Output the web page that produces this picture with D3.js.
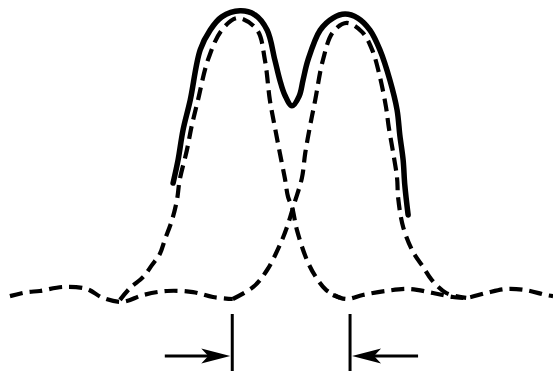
<!DOCTYPE html>
<html>
<head>
<meta charset="utf-8">
<script src="https://cdn.jsdelivr.net/npm/d3@7"></script>
<style>
  html, body { margin: 0; padding: 0; background: #fff; }
  svg { display: block; }
</style>
</head>
<body>
<svg id="chart" width="553" height="371"></svg>
<script>
// Two overlapping component peaks (dashed), their resolved sum (solid),
// and a noisy baseline. Position runs 0-100, intensity 0-100.

// Left component peak
const leftPeakX = [21.7, 23.5, 25.9, 27.5, 28.9, 29.8, 31.1, 32.0, 32.5, 33.8, 34.7, 35.8, 37.6, 40.1, 43.0,
                   46.5, 47.9, 48.8, 49.7, 50.6, 51.5, 52.1, 52.8, 53.7, 55.5, 57.1, 59.0, 61.5];
const leftPeakY = [-1.0, 3.1, 7.0, 11.2, 15.0, 19.9, 26.8, 33.8, 40.8, 51.2, 59.9, 68.6, 82.6, 93.0, 97.2,
                   93.0, 82.6, 68.6, 59.2, 50.2, 41.5, 34.8, 31.4, 23.3, 12.9, 7.0, 2.4, -0.3];

// Right component peak
const rightPeakX = [42.1, 45.8, 48.3, 50.6, 51.9, 53.3, 54.6, 55.2, 56.1, 57.0, 58.4, 60.2, 62.7,
                    65.5, 67.3, 68.7, 69.8, 70.3, 71.1, 71.8, 72.0, 72.9, 74.7, 76.5, 78.1, 80.7, 84.3];
const rightPeakY = [-0.7, 3.5, 9.4, 18.1, 24.4, 33.1, 41.5, 50.2, 59.9, 68.6, 82.6, 92.3, 95.5,
                    92.3, 86.1, 76.7, 66.2, 59.2, 50.2, 41.5, 34.5, 24.4, 15.7, 10.5, 5.9, 1.4, -0.3];

// Observed (summed) profile over the upper part of both peaks
const sumX = [31.3, 32.2, 33.1, 34.4, 36.2, 38.0, 40.1, 43.4, 46.1, 48.3, 49.7, 50.6, 51.5, 52.8,
              54.1, 54.8, 55.7, 57.9, 60.2, 62.4, 64.7, 66.9, 68.7, 70.5, 71.8, 72.3, 72.9, 73.2, 73.8];
const sumY = [39.7, 47.7, 58.2, 68.6, 86.1, 93.0, 97.6, 99.7, 98.3, 93.0, 82.6, 75.6, 70.4, 66.6,
              70.0, 75.6, 82.6, 93.0, 97.2, 98.6, 97.2, 93.0, 86.1, 75.6, 65.2, 56.4, 47.7, 39.0, 28.6];

// Baseline noise either side of the peaks
const baseLeftX = [1.8, 4.9, 7.2, 11.4, 15.7, 18.6, 22.1, 25.9, 30.2, 34.9, 38.5, 42.1];
const baseLeftY = [0.3, 1.7, 2.1, 3.5, 2.8, -0.3, -1.7, 0.7, 2.1, 1.7, 0.0, -0.7];
const baseRightX = [60.2, 62.6, 65.6, 69.8, 74.1, 78.3, 81.9, 84.3, 87.9, 91.5, 95.1, 98.7, 100];
const baseRightY = [0.7, -0.7, 0.7, 2.1, 2.8, 1.4, 0.0, -0.3, 1.4, 2.8, 2.4, 0.7, 0.3];

// Peak-separation markers and the arrow tails pointing at them
const markerX = [42.0, 63.3];
const arrowTailX = [29.8, 75.6];

const svg = d3.select("#chart");
const W = 553;

const x = d3.scaleLinear().domain([0, 100]).range([0, W]);
const y = d3.scaleLinear().domain([0, 100]).range([297, 10]);

const zip = (xs, ys) => xs.map((v, i) => [v, ys[i]]);

const line = d3.line()
  .x(d => x(d[0]))
  .y(d => y(d[1]))
  .curve(d3.curveCatmullRom.alpha(0.5));

const dashed = { width: 4.2, dash: "13,7" };

function drawDashed(pts) {
  svg.append("path")
    .attr("d", line(pts))
    .attr("fill", "none")
    .attr("stroke", "#000")
    .attr("stroke-width", dashed.width)
    .attr("stroke-dasharray", dashed.dash);
}

drawDashed(zip(baseLeftX, baseLeftY));
drawDashed(zip(baseRightX, baseRightY));
drawDashed(zip(leftPeakX, leftPeakY));
drawDashed(zip(rightPeakX, rightPeakY));

// Solid summed profile
svg.append("path")
  .attr("d", line(zip(sumX, sumY)))
  .attr("fill", "none")
  .attr("stroke", "#000")
  .attr("stroke-width", 5.5)
  .attr("stroke-linecap", "round");

// Separation markers with arrows
const arrowY = 356;
markerX.forEach((m, i) => {
  const mx = x(m);
  svg.append("line")
    .attr("x1", mx).attr("x2", mx)
    .attr("y1", 314).attr("y2", 371)
    .attr("stroke", "#000").attr("stroke-width", 3);

  const tail = x(arrowTailX[i]);
  const dir = tail < mx ? 1 : -1;
  const tip = mx - dir * 2;
  svg.append("line")
    .attr("x1", tail).attr("x2", tip - dir * 20)
    .attr("y1", arrowY).attr("y2", arrowY)
    .attr("stroke", "#000").attr("stroke-width", 3);

  const back = tip - dir * 29;
  const notch = tip - dir * 22;
  svg.append("path")
    .attr("d", `M${tip},${arrowY} L${back},${arrowY - 7.5} L${notch},${arrowY} L${back},${arrowY + 7.5} Z`)
    .attr("fill", "#000");
});
</script>
</body>
</html>
